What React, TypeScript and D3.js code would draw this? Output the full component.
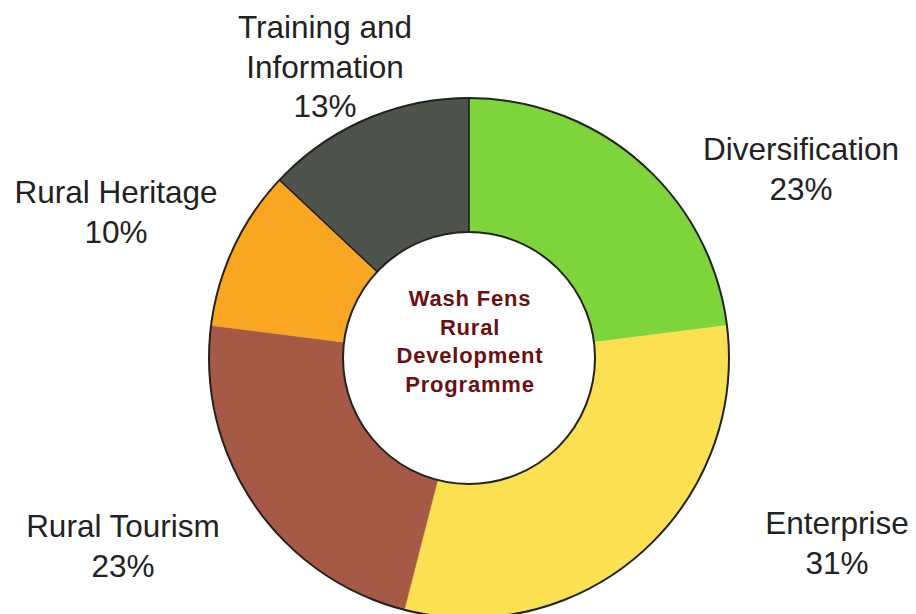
import React, { useEffect, useRef } from "react";
import * as d3 from "d3";

const categories = ["Diversification", "Enterprise", "Rural Tourism", "Rural Heritage", "Training and Information"];
const values = [23, 31, 23, 10, 13];
const colors = ["#7ed53b", "#fbe052", "#a65a46", "#f9a623", "#4e534b"];
const labelLines = [["Diversification"], ["Enterprise"], ["Rural Tourism"], ["Rural Heritage"], ["Training and", "Information"]];
const centerTitle = ["Wash Fens", "Rural", "Development", "Programme"];

// layout (label anchor: x center, baseline of first line)
const labelAnchors: [number, number][] = [
  [801, 160],
  [837, 534],
  [123, 537],
  [116, 203],
  [325, 38],
];

const W = 916, H = 614;
const CX = 469, CY = 358, R_OUT = 260, R_IN = 126;

export default function App() {
  const ref = useRef<SVGSVGElement>(null);
  useEffect(() => {
    const svg = d3.select(ref.current);
    svg.selectAll("*").remove();
    const data = categories.map((c, i) => ({ c, v: values[i], color: colors[i], lines: labelLines[i], anchor: labelAnchors[i] }));
    const pie = d3.pie<any>().sort(null).value((d) => d.v);
    const arc = d3.arc<any>().innerRadius(R_IN).outerRadius(R_OUT);
    const g = svg.append("g").attr("transform", `translate(${CX},${CY})`);
    g.selectAll("path.slice")
      .data(pie(data))
      .join("path")
      .attr("class", "slice")
      .attr("d", arc)
      .attr("fill", (d) => d.data.color)
      .attr("stroke", (d) => d.data.color)
      .attr("stroke-width", 0.5);
    const last = pie(data)[data.length - 1];
    [last.startAngle, last.endAngle].forEach((a) => {
      g.append("line")
        .attr("x1", R_IN * Math.sin(a)).attr("y1", -R_IN * Math.cos(a))
        .attr("x2", R_OUT * Math.sin(a)).attr("y2", -R_OUT * Math.cos(a))
        .attr("stroke", "#1b1b1b").attr("stroke-width", 1.5);
    });
    g.append("circle").attr("r", R_OUT).attr("fill", "none").attr("stroke", "#222").attr("stroke-width", 2);
    g.append("circle").attr("r", R_IN).attr("fill", "#fff").attr("stroke", "#222").attr("stroke-width", 2);

    const tg = g.append("g");
    centerTitle.forEach((t, i) => {
      tg.append("text")
        .attr("x", 1)
        .attr("y", -52 + i * 28.7)
        .attr("text-anchor", "middle")
        .attr("font-family", "Liberation Sans, Arial, sans-serif")
        .attr("font-weight", "bold")
        .attr("font-size", 22)
        .attr("letter-spacing", 0.8)
        .attr("fill", "#6b1010")
        .text(t);
    });

    const lg = svg.append("g");
    data.forEach((d) => {
      const lines = [...d.lines, `${d.v}%`];
      lines.forEach((t, i) => {
        lg.append("text")
          .attr("x", d.anchor[0])
          .attr("y", d.anchor[1] + i * 39.5)
          .attr("text-anchor", "middle")
          .attr("font-family", "Liberation Sans, Arial, sans-serif")
          .attr("font-size", 31.5)
          .attr("fill", "#222")
          .text(t);
      });
    });
  }, []);
  return (
    <svg
      ref={ref}
      width={W}
      height={H}
      style={{ position: "absolute", left: 0, top: 0, display: "block", background: "#fff" }}
    />
  );
}
